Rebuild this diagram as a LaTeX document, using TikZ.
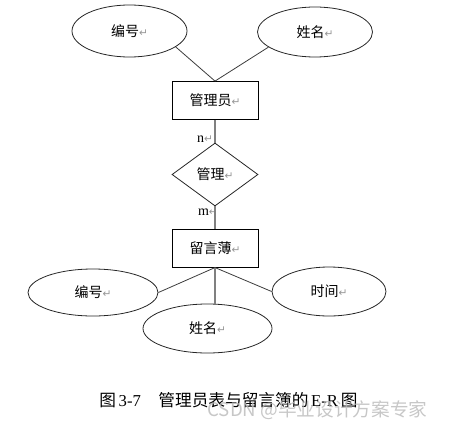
\documentclass[tikz,border=0pt]{standalone}
\usepackage{fontspec}
\setmainfont{Liberation Serif}
\newfontfamily\cjk{Noto Sans CJK SC}
\newfontfamily\djv{DejaVu Sans}
\usetikzlibrary{shapes.geometric}
\definecolor{retgray}{RGB}{150,150,150}
\definecolor{linegray}{RGB}{128,128,128}
\definecolor{darkline}{RGB}{60,60,60}
\definecolor{wmgray}{RGB}{185,185,185}
\newcommand\parmk{{\djv\color{retgray}\fontsize{8}{8}\selectfont ↵}}
\begin{document}
\begin{tikzpicture}[x=0.75pt,y=-0.75pt,
  ent/.style={draw=black,line width=0.6pt,rectangle,inner sep=0pt,minimum width=64.5pt,minimum height=28.5pt,font=\fontsize{10.5}{12}\selectfont\cjk},
  attr/.style={draw=black!85,line width=0.6pt,ellipse,inner sep=0pt,font=\fontsize{10.5}{12}\selectfont\cjk},
  rel/.style={draw=black!85,line width=0.6pt,diamond,inner sep=0pt,minimum width=64.5pt,minimum height=47.25pt,font=\fontsize{10.5}{12}\selectfont\cjk},
  thin/.style={draw=darkline,line width=0.6pt},
  thick/.style={draw=linegray,line width=1.3pt},
  card/.style={inner sep=0pt,font=\fontsize{10.5}{12}\selectfont}
]
\useasboundingbox (0,0) rectangle (449,428);
\node[attr,minimum width=86.25pt,minimum height=39pt] (e1) at (129.5,31) {编号\parmk};
\node[attr,minimum width=86.25pt,minimum height=37.5pt] (e2) at (315,32) {姓名\parmk};
\node[ent] (b1) at (215,100.5) {管理员\parmk};
\node[rel] (d) at (215,174.5) {管理\parmk};
\node[ent,minimum height=28pt] (b2) at (215,248.5) {留言薄\parmk};
\node[attr,minimum width=97.5pt,minimum height=35.25pt] (e3) at (93,292.5) {编号\parmk};
\node[attr,minimum width=96.75pt,minimum height=36.75pt] (e4) at (207.5,328.5) {姓名\parmk};
\node[attr,minimum width=85.5pt,minimum height=36.75pt] (e5) at (329,291.5) {时间\parmk};
\node[card] (n) at (205,139) {n\parmk};
\node[card] (m) at (208,212) {m\parmk};
\draw[thin] (e1.-19) -- (b1.north);
\draw[thin] (e2.-162) -- (b1.north);
\draw[thick] (b1.south) -- (d.north);
\draw[thick] (d.south) -- (b2.north);
\draw[thin] (b2.south) -- (e3.east);
\draw[thin] (b2.south) -- (e5.west);
\draw[thick] (b2.south) -- (b2.south |- e4.north);
\node[inner sep=0pt,anchor=west,font=\fontsize{12.5}{14}\selectfont] (cap) at (99,400.5) {{\cjk 图}\,3-7\hspace{1.05em}{\cjk 管理员表与留言簿的}\,E-R\,{\cjk 图}};
\node[inner sep=0pt,text=wmgray,text opacity=0.8,font=\fontsize{14}{16}\selectfont\cjk] (wm) at (317.5,410.5) {CSDN @毕业设计方案专家};
\end{tikzpicture}
\end{document}
